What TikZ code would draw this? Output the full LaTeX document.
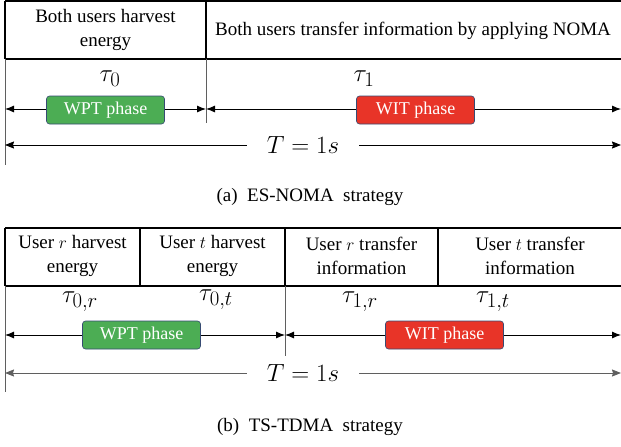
\documentclass[tikz,border=0pt]{standalone}
\usepackage{fontspec}
\setmainfont{Liberation Serif}
\usepackage{tikz}
\usetikzlibrary{arrows.meta,positioning}
\DeclareMathSizes{27}{27}{20}{15}
\definecolor{wptGreen}{RGB}{76,173,84}
\definecolor{witRed}{RGB}{232,52,40}
\definecolor{phaseEdge}{RGB}{55,75,115}
\definecolor{lineGray}{RGB}{95,95,95}

\begin{document}
\begin{tikzpicture}[x=1pt,y=-1pt,
  cell/.style={align=center,font=\fontsize{19}{24}\selectfont},
  phase/.style={draw=phaseEdge,line width=0.6pt,rounded corners=3pt,text=white,
    minimum width=118,minimum height=28,inner sep=0pt,font=\fontsize{18}{20}\selectfont},
  dur/.style={font=\fontsize{27}{27}\selectfont},
  period/.style={font=\fontsize{25}{25}\selectfont,inner xsep=20pt},
  span/.style={line width=0.9pt,{Latex[length=9,width=7]}-{Latex[length=9,width=7]}},
  total/.style={line width=0.9pt,-{Stealth[length=9,width=7,inset=1pt]}},
  grid/.style={line width=1.4pt},
  caption/.style={font=\fontsize{19}{20}\selectfont}]
\useasboundingbox (0,0) rectangle (621,447);

% ---- (a) ES-NOMA ----
\coordinate (a0) at (5,1);
\coordinate (a1) at (206,1);
\coordinate (aE) at (621,1);
\coordinate (m0) at (5,59);
\coordinate (m1) at (206,59);
\coordinate (mE) at (621,59);
\draw[grid] (a0) -- (aE) (m0) -- (mE) (a0) -- (m0) (a1) -- (m1);
\draw[lineGray,line width=0.8pt] (m0) -- ++(0,106) (m1) -- ++(0,64);
\node[cell] (ha) at (105.5,30) {Both users harvest\\energy};
\node[cell] (ia) at (413,31) {Both users transfer information by applying NOMA};
\node[dur] (ta0) at (110,79) {$\tau_0$};
\node[dur] (ta1) at (364,79) {$\tau_1$};
\coordinate (sa0) at (5,109);
\coordinate (sa1) at (206,109);
\coordinate (sa2) at (621,109);
\draw[span] (sa0) -- (sa1);
\draw[span] (sa1) -- (sa2);
\node[phase,fill=wptGreen] (wpta) at (105.5,110) {WPT phase};
\node[phase,fill=witRed] (wita) at (415.5,110) {WIT phase};
\node[period] (Ta) at (303,145) {$T=1s$};
\coordinate (Ta0) at (5,145);
\coordinate (Ta1) at (621,145);
\draw[total] (Ta.west) -- (Ta0);
\draw[total] (Ta.east) -- (Ta1);
\node[caption] (capa) at (310,197) {(a)\ \ ES-NOMA\ \ strategy};

% ---- (b) TS-TDMA ----
\coordinate (b0) at (5,228);
\coordinate (b1) at (140,228);
\coordinate (b2) at (285,228);
\coordinate (b3) at (438,228);
\coordinate (bE) at (621,228);
\coordinate (n0) at (5,286);
\coordinate (n2) at (285,286);
\coordinate (nE) at (621,286);
\draw[grid] (b0) -- (bE) (n0) -- (nE);
\foreach \c in {b0,b1,b2,b3}
  \draw[grid] (\c) -- ++(0,58);
\draw[lineGray,line width=0.8pt] (n0) -- ++(0,106) (n2) -- ++(0,70);
\node[cell] (hr) at (72.5,256) {User $r$ harvest\\energy};
\node[cell] (ht) at (212.5,256) {User $t$ harvest\\energy};
\node[cell] (ir) at (361.5,256) {User $r$ transfer\\information};
\node[cell] (it) at (530,256) {User $t$ transfer\\information};
\node[dur] (t0r) at (80,302) {$\tau_{0,r}$};
\node[dur] (t0t) at (216,300) {$\tau_{0,t}$};
\node[dur] (t1r) at (360,302) {$\tau_{1,r}$};
\node[dur] (t1t) at (493,302) {$\tau_{1,t}$};
\coordinate (sb0) at (5,335);
\coordinate (sb1) at (285,335);
\coordinate (sb2) at (621,335);
\draw[span] (sb0) -- (sb1);
\draw[span] (sb1) -- (sb2);
\node[phase,fill=wptGreen] (wptb) at (141.5,335) {WPT phase};
\node[phase,fill=witRed] (witb) at (444.5,335) {WIT phase};
\node[period] (Tb) at (303,373) {$T=1s$};
\coordinate (Tb0) at (5,373);
\coordinate (Tb1) at (621,373);
\draw[total,lineGray] (Tb.west) -- (Tb0);
\draw[total,lineGray] (Tb.east) -- (Tb1);
\node[caption] (capb) at (310,427) {(b)\ \ TS-TDMA\ \ strategy};
\end{tikzpicture}
\end{document}
